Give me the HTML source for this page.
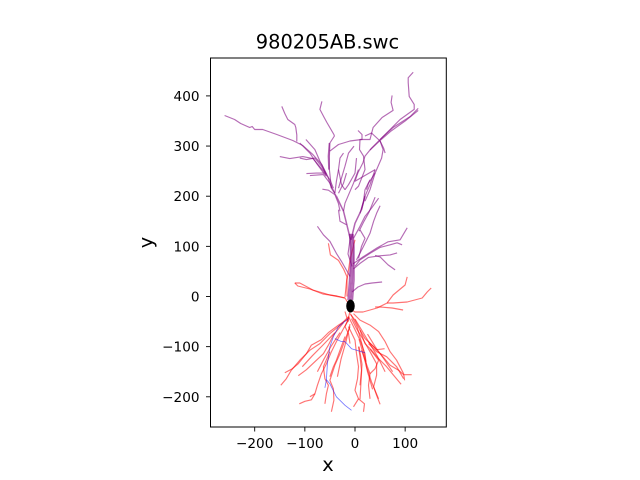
<!DOCTYPE html>
<html>
<head>
<meta charset="utf-8">
<style>
html,body{margin:0;padding:0;background:#fff;width:640px;height:480px;overflow:hidden}
svg{display:block}
text{font-family:"DejaVu Sans","Liberation Sans",sans-serif;fill:#000}
</style>
</head>
<body>
<svg id="chart" width="640" height="480" viewBox="0 0 640 480" xmlns="http://www.w3.org/2000/svg">
  <rect x="0" y="0" width="640" height="480" fill="#fff"/>
  <g id="marks"></g>
  <rect x="210.5" y="58" width="235.8" height="369" fill="none" stroke="#000" stroke-width="1"/>
  <g id="ticks"></g>
  <text x="327.5" y="48.5" font-size="19.4" text-anchor="middle">980205AB.swc</text>
  <text x="328" y="471" font-size="19.4" text-anchor="middle">x</text>
  <text x="0" y="0" font-size="19.4" text-anchor="middle" transform="translate(152.5,242.5) rotate(-90)">y</text>
</svg>
<script>
const xTicks = [-200, -100, 0, 100];
const yTicks = [-200, -100, 0, 100, 200, 300, 400];
const soma = [-9, -19];
const somaRadii = [8.5, 13];

const trunkBranches = [
  [-11,-7, -8,33, -7,67, -7,99, -9,125],
  [-8,-7, -5,33, -4,67, -4,99, -6,125],
  [-5,-7, -2,33, -2,67, -2,99, -4,125],
  [-14,-7, -11,33, -9,67, -9,99, -11,125],
  [-9,113, -17,146, -23,170, -37,200],
  [-8,113, 0,146, 13,173, 20,200],
  [-51,306, -53,280, -52,253]
];

const apicalBranches = [
  [-260,361, -240,353, -228,345, -210,337, -205,339, -200,333, -184,333, -156,323, -124,311, -104,301, -84,283, -66,263, -54,239, -47,216, -37,200],
  [-146,379, -140,365, -134,353, -120,343, -118,337, -116,322, -116,309],
  [-66,389, -70,373, -62,358, -56,347, -42,323, -41,320, -50,306, -51,280, -51,253, -47,216],
  [-150,279, -130,275, -104,279, -84,275, -60,247],
  [-110,276, -97,273, -80,276, -67,260, -57,243],
  [-98,313, -80,293, -70,270, -57,243],
  [-110,306, -90,286, -77,266, -60,243, -57,240],
  [-97,245, -77,246, -60,246, -50,233, -43,216],
  [116,447, 106,436, 106,427, 108,399, 118,383, 118,373, 90,353, 70,333, 50,313, 33,296, 20,280, 16,267, 6,247, 0,230, 40,253],
  [126,375, 110,359, 76,337, 50,313],
  [126,371, 100,350, 72,330, 50,311, 30,292],
  [74,401, 72,387, 76,371, 54,357, 36,337, 30,313, 13,313, -10,310, -33,303, -50,290],
  [6,331, 14,323, 14,313, 10,313, 9,293, 17,280, 20,253, 7,220, 0,213],
  [20,320, 33,326, 50,310, 57,296, 60,286],
  [50,310, 56,293, 53,276, 40,246, 27,226, 23,213],
  [-23,286, -30,276, -33,253, -27,223, -20,213],
  [-2,300, -13,286, -20,260, -33,216],
  [3,276, 0,246, -13,223, -20,213],
  [-33,253, -37,230, -40,206],
  [-17,246, -23,226, -33,206],
  [7,253, -3,226, -20,186, -23,170],
  [-90,241, -63,243, -50,226, -40,206],
  [30,233, 20,213, 17,190, 10,166],
  [40,246, 30,213, 20,190],
  [40,253, 30,223, 20,200, 13,173],
  [-65,214, -53,212, -40,203],
  [-33,173, -30,150, -17,143],
  [-40,203, -33,185, -30,170],
  [-75,140, -63,123, -50,110, -37,86, -27,70, -10,40],
  [54,29, 34,27, 20,25, 6,19, -6,9],
  [47,196, 33,176, 20,160, 10,140, -3,116],
  [50,181, 43,166, 37,150, 30,126, 17,100, 3,73],
  [10,133, 20,116, 13,100, 7,76],
  [40,198, 28,168, 18,150, 8,130],
  [104,137, 90,113, 66,109, 44,97, 16,79, -4,65],
  [94,103, 84,107, 70,103, 50,98, 30,86, 10,73, 0,60],
  [84,87, 70,83, 47,81, 27,78, 10,66, -3,55],
  [80,53, 66,63, 50,79, 40,82],
  [-10,113, -14,85, -6,60]
];

const basalBranches = [
  [-120,27, -110,27, -84,13, -50,3, -20,-3, -14,-13],
  [-120,27, -114,21, -90,15, -64,5, -36,1, -20,-3],
  [-53,106, -49,83, -33,72, -23,55, -16,39, -20,-1],
  [0,113, -10,73, -16,33, -16,0],
  [104,39, 100,23, 76,3, 64,-13, 44,-23, 16,-31, 0,-31, -10,-25],
  [152,17, 144,9, 134,-3, 104,-11, 76,-13, 64,-13],
  [96,-27, 74,-23, 50,-21, 40,-21],
  [-13,-44, -33,-57, -53,-72, -67,-86, -87,-97, -97,-114, -113,-134, -125,-144, -140,-152],
  [-148,-177, -137,-164, -127,-147, -110,-127, -90,-107, -70,-94, -50,-74, -33,-60, -13,-40],
  [-113,-158, -97,-146, -80,-130, -63,-114, -53,-97, -43,-77, -23,-52],
  [-111,-214, -100,-209, -87,-206, -80,-194, -75,-177, -67,-154, -57,-134, -47,-110, -37,-90, -23,-64, -13,-47],
  [-60,-214, -57,-194, -53,-177, -60,-164, -63,-140, -50,-110],
  [-47,-230, -42,-207, -43,-184, -50,-167, -40,-137, -30,-114, -20,-87, -10,-60],
  [-50,-160, -43,-140, -37,-127, -30,-107, -20,-80],
  [-90,-200, -80,-194],
  [-3,-34, 10,-47, 30,-57, 47,-70, 60,-90, 70,-110, 83,-127, 97,-154, 99,-167],
  [113,-156, 97,-156, 87,-147, 70,-137, 53,-117, 37,-100, 20,-84, 10,-67, 0,-47, -10,-34],
  [92,-175, 77,-157, 63,-140, 47,-124, 33,-107, 20,-94, 10,-67],
  [97,-164, 83,-140, 63,-120, 43,-110, 27,-94],
  [59,-104, 43,-106, 27,-90],
  [50,-215, 43,-197, 37,-180, 43,-157, 43,-134, 30,-110, 17,-87, 3,-64, -7,-44],
  [47,-204, 33,-170, 23,-140, 20,-114, 10,-87, -3,-60, -13,-40],
  [30,-204, 27,-177, 30,-154, 20,-127, 13,-107],
  [17,-230, 19,-214, 7,-204, 0,-187, 5,-164, 7,-140, 3,-114, 0,-87, -13,-60],
  [-3,-220, 7,-204],
  [10,-177, 13,-147, 10,-120, 7,-100],
  [-10,-94, -13,-74, -20,-60, -12,-40],
  [30,-154, 40,-144, 47,-127, 30,-105],
  [22,-130, 14,-95, 4,-60, -8,-36],
  [-10,-30, -12,-37, -14,-50, -20,-30],
  [-35,-160, -28,-125, -18,-90, -10,-55],
  [60,-150, 45,-120, 30,-95, 15,-70, 0,-45],
  [75,-150, 58,-125, 40,-100, 25,-75],
  [35,-185, 25,-150, 18,-120, 8,-85],
  [10,-205, 12,-170, 14,-135, 8,-100],
  [-75,-150, -62,-125, -48,-100, -30,-72],
  [-105,-140, -85,-118, -65,-98, -40,-72]
];

const axonBranches = [
  [-7,-227, -20,-217, -37,-200, -50,-174, -57,-166, -60,-182],
  [-57,-166, -55,-134, -50,-100, -43,-80, -33,-60, -13,-44],
  [-40,-84, -27,-90, -20,-90, -7,-104, 20,-112]
];

const svgNS = 'http://www.w3.org/2000/svg';
const marks = document.getElementById('marks');
const tickLayer = document.getElementById('ticks');

function xScale(v) { return 355 + v * 0.5015; }
function yScale(v) { return 296.5 - v * 0.5015; }

function drawBranches(list, color, width, opacity, name) {
  list.forEach(function (b) {
    const pts = [];
    for (let i = 0; i < b.length; i += 2) {
      pts.push(xScale(b[i]).toFixed(1) + ',' + yScale(b[i + 1]).toFixed(1));
    }
    const el = document.createElementNS(svgNS, 'polyline');
    el.setAttribute('points', pts.join(' '));
    el.setAttribute('fill', 'none');
    el.setAttribute('stroke', color);
    el.setAttribute('stroke-width', width);
    el.setAttribute('stroke-opacity', opacity);
    el.setAttribute('stroke-linejoin', 'round');
    
    
    marks.appendChild(el);
  });
}

drawBranches(basalBranches, '#ff0000', 1.15, 0.55, 'basal-dendrite');
drawBranches(axonBranches, '#0000ff', 0.8, 0.55, 'axon-branch');
drawBranches(apicalBranches, '#800080', 1.15, 0.58, 'apical-dendrite');
drawBranches(trunkBranches, '#800080', 1.5, 0.6, 'apical-trunk');

const somaEl = document.createElementNS(svgNS, 'ellipse');
somaEl.setAttribute('cx', xScale(soma[0]));
somaEl.setAttribute('cy', yScale(soma[1]));
somaEl.setAttribute('rx', somaRadii[0] * 0.5015);
somaEl.setAttribute('ry', somaRadii[1] * 0.5015);
somaEl.setAttribute('fill', '#000');


marks.appendChild(somaEl);

function addLine(x1, y1, x2, y2, name) {
  const l = document.createElementNS(svgNS, 'line');
  l.setAttribute('x1', x1);
  l.setAttribute('y1', y1);
  l.setAttribute('x2', x2);
  l.setAttribute('y2', y2);
  l.setAttribute('stroke', '#000');
  l.setAttribute('stroke-width', '0.9');
  
  
  tickLayer.appendChild(l);
}

function addLabel(x, y, anchor, value, name) {
  const t = document.createElementNS(svgNS, 'text');
  t.setAttribute('x', x);
  t.setAttribute('y', y);
  t.setAttribute('font-size', '13.6');
  t.setAttribute('text-anchor', anchor);
  t.textContent = String(value).replace('-', '\u2212');
  
  
  tickLayer.appendChild(t);
}

xTicks.forEach(function (v) {
  const px = xScale(v);
  addLine(px, 427, px, 431.5, 'x-tick-mark');
  addLabel(px, 448, 'middle', v, 'x-tick-label');
});

yTicks.forEach(function (v) {
  const py = yScale(v);
  addLine(206, py, 210.5, py, 'y-tick-mark');
  addLabel(199.5, py + 5, 'end', v, 'y-tick-label');
});
</script>
</body>
</html>
